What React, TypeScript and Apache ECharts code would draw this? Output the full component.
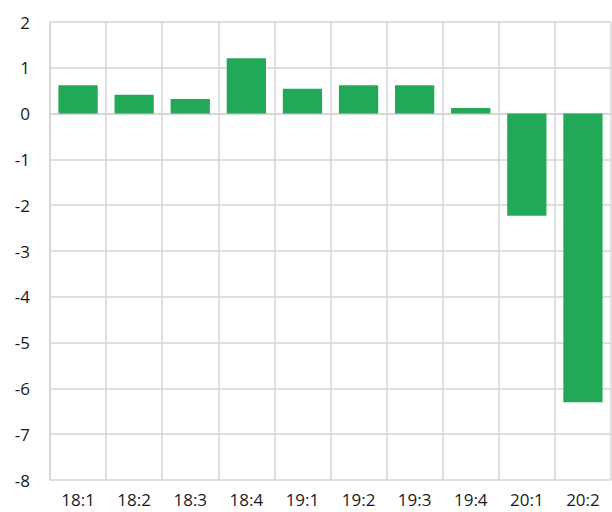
import React, { useEffect, useRef } from "react";
import * as echarts from "echarts";

const categories = ["18:1", "18:2", "18:3", "18:4", "19:1", "19:2", "19:3", "19:4", "20:1", "20:2"];
const values = [0.62, 0.41, 0.32, 1.21, 0.54, 0.62, 0.62, 0.12, -2.23, -6.3];
const yMin = -8;
const yMax = 2;
const yStep = 1;

export default function App() {
  const ref = useRef<HTMLDivElement>(null);
  useEffect(() => {
    if (!ref.current) return;
    const chart = echarts.init(ref.current, null, { renderer: "svg" });
    const font = "'Open Sans', sans-serif";
    chart.setOption({
      animation: false,
      grid: { left: 50, right: 1, top: 22, bottom: 32 },
      xAxis: {
        type: "category",
        data: categories,
        axisLine: { show: true, lineStyle: { color: "#d4d4d4", width: 1.5 } },
        axisTick: { show: false },
        splitLine: { show: true, lineStyle: { color: "#d4d4d4", width: 1.5 } },
        axisLabel: { color: "#1a1a1a", fontSize: 17, fontFamily: font, margin: 11 },
      },
      yAxis: {
        type: "value",
        min: yMin,
        max: yMax,
        interval: yStep,
        axisLine: { show: true, lineStyle: { color: "#d4d4d4", width: 1.5 } },
        axisTick: { show: false },
        splitLine: { show: true, lineStyle: { color: "#d4d4d4", width: 1.5 } },
        axisLabel: { color: "#1a1a1a", fontSize: 17, fontFamily: font, margin: 20 },
      },
      series: [
        {
          type: "bar",
          data: values,
          barCategoryGap: "30%",
          itemStyle: { color: "#21a958" },
        },
      ],
    });
    return () => chart.dispose();
  }, []);
  return <div ref={ref} style={{ width: 612, height: 512, position: "absolute", left: 0, top: 0 }} />;
}
